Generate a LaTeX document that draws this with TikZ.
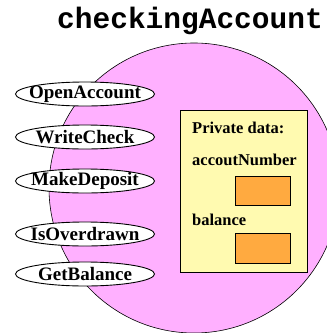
\documentclass[tikz,border=0pt]{standalone}
\usepackage{fontspec}
\setmainfont{Liberation Serif}
\setmonofont{Liberation Mono}
\usetikzlibrary{shapes.geometric}
\definecolor{objpink}{RGB}{255,176,255}
\definecolor{datayellow}{RGB}{255,250,176}
\definecolor{slotorange}{RGB}{255,170,64}
\newcommand{\methodfont}{\bfseries\fontsize{19}{21}\selectfont}
\newcommand{\datafont}{\bfseries\fontsize{16.5}{19}\selectfont}
\begin{document}
\begin{tikzpicture}[x=1pt,y=1pt,
  objbody/.style={circle, draw=black, fill=objpink, line width=0.6pt, minimum size=290pt, inner sep=0pt},
  method/.style={ellipse, draw=black, fill=white, line width=0.9pt,
    minimum width=139pt, minimum height=24pt, inner sep=0pt},
  privbox/.style={rectangle, draw=black, fill=datayellow, line width=0.7pt,
    minimum width=127pt, minimum height=162pt, inner sep=0pt, anchor=north west},
  slot/.style={rectangle, draw=black, fill=slotorange, line width=0.7pt,
    minimum width=55pt, minimum height=29pt, inner sep=0pt, anchor=north west},
  datalabel/.style={font=\datafont, anchor=base west, inner sep=0pt}]
\useasboundingbox (0,0) rectangle (327,-333);
\clip (0,0) rectangle (327,-333);

% class name
\node[font=\ttfamily\bfseries\fontsize{29.5}{31}\selectfont, anchor=base, inner sep=0pt]
  (title) at (190,-28) {checkingAccount};

% object body
\node[objbody] (obj) at (194,-188) {};

% public methods
\node[method, label={[font=\methodfont]center:OpenAccount}] (open) at (85,-94) {};
\node[method, label={[font=\methodfont]center:WriteCheck}] (write) at (85,-137) {};
\node[method, label={[font=\methodfont]center:MakeDeposit}] (deposit) at (85,-181) {};
\node[method, label={[font=\methodfont]center:IsOverdrawn}] (overdrawn) at (85,-234) {};
\node[method, label={[font=\methodfont]center:GetBalance}] (getbal) at (85,-274) {};

% private data
\node[privbox] (priv) at (180,-110) {};
\node[datalabel] (privtitle) at (192,-133) {Private data:};
\node[datalabel] (numlabel) at (192,-165) {accoutNumber};
\node[slot] (numslot) at (235,-176) {};
\node[datalabel] (ballabel) at (192,-225) {balance};
\node[slot, minimum height=30pt] (balslot) at (235,-233) {};
\end{tikzpicture}
\end{document}
